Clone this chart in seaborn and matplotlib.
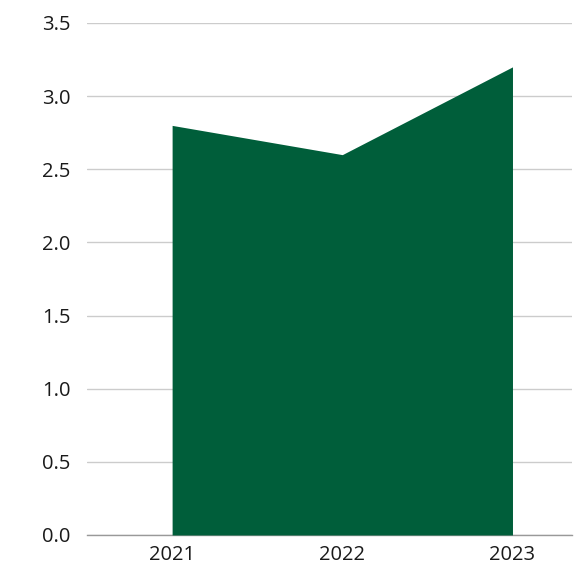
import matplotlib
matplotlib.use("Agg")
import matplotlib.pyplot as plt
import seaborn as sns
import pandas as pd

years = [2021, 2022, 2023]
values = [2.8, 2.6, 3.2]
yticks = [0.0, 0.5, 1.0, 1.5, 2.0, 2.5, 3.0, 3.5]

green = "#005e3a"

sns.set_style("white")
plt.rcParams['font.family'] = ['Open Sans', 'DejaVu Sans']

df = pd.DataFrame({'year': years, 'value': values})

fig = plt.figure(figsize=(5.74, 5.69), dpi=100)
ax = fig.add_axes([0.1516, 0.0598, 0.845, 0.8998])

# area fill, no outline (like the reference)
ax.fill_between(df['year'], 0, df['value'], color=green, linewidth=0, zorder=3)

ax.set_xlim(2020.5, 2023.35)
ax.set_ylim(0, 3.5)
ax.set_yticks(yticks)
ax.set_yticklabels([f"{t:.1f}" for t in yticks])
ax.set_xticks(years)
ax.set_xticklabels([str(y) for y in years])

ax.grid(axis='y', color='#cccccc', linewidth=1, zorder=0)
sns.despine(ax=ax, left=True)
ax.spines['bottom'].set_color('#999999')
ax.spines['bottom'].set_linewidth(1)
ax.tick_params(axis='both', length=0, labelsize=14.5, colors='#1a1a1a')
ax.tick_params(axis='y', pad=12)
ax.tick_params(axis='x', pad=7)

fig.savefig("out.png", dpi=100)
